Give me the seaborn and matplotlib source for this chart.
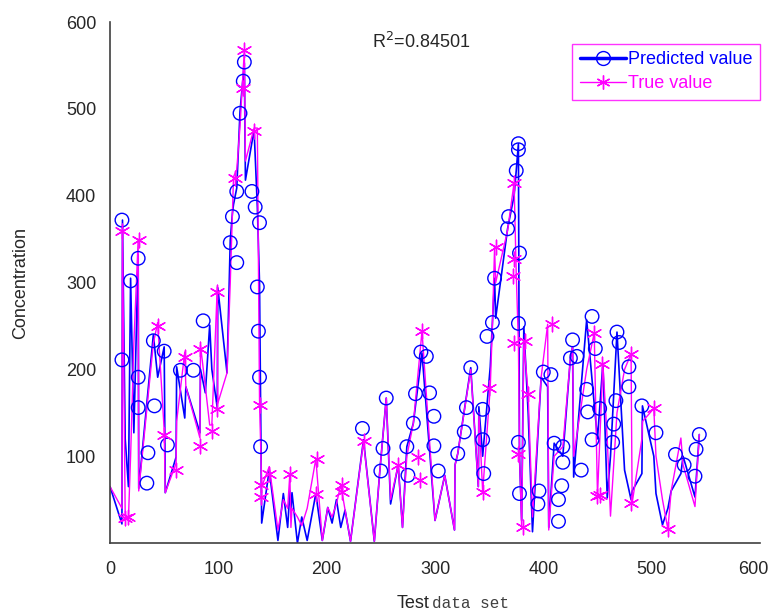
import numpy as np
import pandas as pd
import matplotlib
matplotlib.use("Agg")
import matplotlib.pyplot as plt
import matplotlib.transforms as mtransforms
from matplotlib.lines import Line2D
import seaborn as sns

# line vertices (test sample index, predicted, true)
x_idx = [0, 11, 11.5, 14, 17, 19, 22, 26, 26.5, 40, 44, 50, 51, 61, 61.5, 69, 70, 83, 83.5, 88,
         92, 94, 99, 99.5, 108, 111, 113, 114, 117, 120, 124, 125, 133, 136, 138, 140, 147, 155, 160, 164,
         166, 167, 168, 173, 177, 182, 190, 196, 201, 205, 209, 213, 217, 222, 234, 244, 249, 255, 259, 266,
         270, 274, 280, 288, 300, 309, 318, 318.5, 321, 333, 340, 340.5, 344, 351, 353, 355, 356, 367, 373, 375,
         377, 378, 380, 382, 386, 390, 398, 404, 405, 410, 418, 425, 427, 428, 440, 447, 450, 455, 459, 462,
         468, 475, 481, 482, 491, 491.5, 502, 504, 510, 515, 518, 527, 529, 540, 544]
pred_line = [65, 22, 372, 120, 65, 305, 127, 332, 63, 240, 191, 226, 58, 99, 203, 144, 180, 127, 200, 173,
             251, 200, 156, 294, 196, 349, 380, 390, 409, 497, 553, 418, 476, 387, 300, 23, 84, 3, 57, 18,
             60, 40, 58, 0, 30, 3, 57, 3, 41, 23, 50, 18, 38, 2, 119, 2, 82, 167, 45, 90,
             18, 111, 138, 219, 26, 78, 15, 90, 103, 202, 65, 157, 100, 203, 254, 305, 259, 362, 400, 429,
             460, 100, 26, 249, 150, 13, 191, 180, 18, 115, 100, 213, 226, 76, 257, 160, 120, 207, 52, 100,
             243, 84, 50, 60, 80, 158, 100, 57, 21, 40, 60, 80, 100, 53, 125]
true_line = [65, 40, 360, 33, 28, 100, 230, 350, 60, 230, 254, 130, 58, 92, 140, 220, 180, 121, 228, 180,
             136, 136, 295, 161, 196, 300, 380, 422, 430, 480, 568, 440, 478, 478, 165, 65, 88, 15, 50, 40,
             80, 18, 40, 30, 20, 40, 97, 3, 41, 30, 45, 67, 38, 2, 117, 2, 82, 167, 50, 90,
             18, 100, 138, 244, 26, 78, 15, 90, 103, 200, 65, 150, 59, 179, 250, 341, 300, 360, 415, 310,
             230, 103, 18, 233, 172, 30, 191, 252, 15, 100, 111, 213, 226, 100, 200, 242, 54, 206, 120, 31,
             150, 200, 218, 46, 120, 140, 155, 100, 50, 16, 60, 121, 90, 42, 125]

# marker positions
pred_mx = [11, 11, 19, 26, 26, 26, 35, 34, 40, 41, 50, 53, 65, 77, 86,
           111, 113, 117, 117, 120, 123, 124, 131, 134, 136, 137, 138, 138, 139,
           233, 250, 252, 255, 274, 275, 280, 282, 287, 292, 295, 299, 299, 303, 321, 327,
           329, 333, 344, 344, 345, 348, 353, 355, 367, 368, 375, 377, 377, 378, 377, 377,
           378, 396, 395, 400, 407, 410, 418, 418, 417, 414, 414, 427, 425, 431, 435, 440,
           441, 445, 445, 448, 452, 464, 465, 467, 468, 470, 479, 479, 491, 504, 522, 530,
           541, 540, 544]
pred_my = [372, 211, 302, 328, 191, 156, 104, 69, 233, 158, 221, 113, 199, 199, 256,
           346, 376, 405, 323, 495, 532, 554, 405, 387, 295, 244, 369, 191, 111,
           132, 83, 109, 167, 111, 78, 138, 172, 220, 215, 173, 146, 112, 83, 103, 128,
           156, 202, 154, 119, 80, 238, 254, 305, 362, 376, 429, 453, 460, 334, 253, 116,
           57, 60, 45, 197, 194, 115, 111, 93, 66, 50, 25, 234, 213, 215, 84, 177,
           151, 119, 261, 224, 155, 116, 137, 164, 243, 231, 203, 180, 158, 127, 102, 90,
           108, 77, 125]
true_mx = [11, 14, 17, 27, 44, 50, 61, 69, 83, 83, 94, 99, 99, 115, 123, 124, 133, 138, 139, 139,
           147, 166, 190, 191, 214, 214, 234, 266, 284, 286, 288, 344, 350, 356, 373, 373, 372, 373,
           377, 381, 383, 386, 408, 447, 450, 454, 452, 481, 481, 502, 515]
true_my = [360, 29, 30, 349, 250, 124, 84, 214, 224, 112, 129, 289, 154, 420, 524, 568, 475, 159, 67, 53,
           79, 80, 57, 97, 67, 59, 117, 90, 99, 73, 244, 59, 179, 341, 415, 327, 308, 230,
           103, 18, 233, 172, 252, 242, 54, 206, 55, 218, 46, 155, 16]

r2_text = "R$^2$=0.84501"

df_line = pd.DataFrame({"x": x_idx, "pred": pred_line, "true": true_line})
df_pm = pd.DataFrame({"x": pred_mx, "y": pred_my})
df_tm = pd.DataFrame({"x": true_mx, "y": true_my})

sns.set_style("white")
plt.rcParams["font.family"] = ["Liberation Sans", "DejaVu Sans"]

fig = plt.figure(figsize=(7.71, 6.15), dpi=100)
ax = fig.add_axes([0.1427, 0.117, 0.843, 0.847])

blue = "#0000ff"
magenta = "#ff00ff"
star = (6, 2, 0)

sns.lineplot(data=df_line, x="x", y="pred", ax=ax, color=blue, lw=1.2,
             sort=False, estimator=None)
sns.lineplot(data=df_line, x="x", y="true", ax=ax, color=magenta, lw=1.0,
             sort=False, estimator=None)
sns.scatterplot(data=df_pm, x="x", y="y", ax=ax, marker="o", s=95,
                facecolor="none", edgecolor=blue, linewidth=1.0, zorder=3)
sns.scatterplot(data=df_tm, x="x", y="y", ax=ax, marker=star, s=110,
                color=magenta, edgecolor=magenta, linewidth=1.0, zorder=3)

ax.set_xlim(0, 600)
ax.set_ylim(0, 600)
ax.set_xticks(range(0, 601, 100))
ax.set_yticks(range(100, 601, 100))
ax.tick_params(direction="in", length=5, width=1, colors="#404040",
               labelsize=13, labelcolor="#262626")
ax.tick_params(axis="x", pad=13)
ax.tick_params(axis="y", pad=10)
for s in ["top", "right"]:
    ax.spines[s].set_visible(False)
for s in ["left", "bottom"]:
    ax.spines[s].set_color("#404040")
    ax.spines[s].set_linewidth(1.2)

# keep the last x tick label inside the figure
last = ax.get_xticklabels()[-1]
shift = mtransforms.ScaledTranslation(-5 / 72, 0, fig.dpi_scale_trans)
last.set_transform(last.get_transform() + shift)

ax.set_xlabel("")
ax.set_ylabel("Concentration", fontsize=13, color="#262626")
ax.yaxis.set_label_coords(-0.125, 0.5)

fig.text(0.557, 0.012, "Test", fontsize=13, color="#262626", ha="right")
fig.text(0.560, 0.012, "data set", fontsize=11.5, color="#404040", ha="left",
         family=["Liberation Mono", "DejaVu Sans Mono"])

fig.text(372 / 771, 1 - 48 / 615, r2_text, fontsize=13, color="#262626")

handles = [
    Line2D([0], [0], color=blue, lw=2.5, marker="o", markersize=10,
           markerfacecolor="none", markeredgecolor=blue),
    Line2D([0], [0], color=magenta, lw=1.0, marker=star, markersize=10,
           markeredgecolor=magenta),
]
leg = ax.legend(handles, ["Predicted value", "True value"], loc="upper right",
                bbox_to_anchor=(1.0, 0.958), borderaxespad=0, fontsize=13,
                frameon=True, fancybox=False, handlelength=2.6,
                handletextpad=0.1, borderpad=0.4, labelspacing=0.4)
leg.get_frame().set_edgecolor(magenta)
leg.get_frame().set_linewidth(1.0)
for t, c in zip(leg.get_texts(), [blue, magenta]):
    t.set_color(c)

fig.savefig("out.png", dpi=100)
